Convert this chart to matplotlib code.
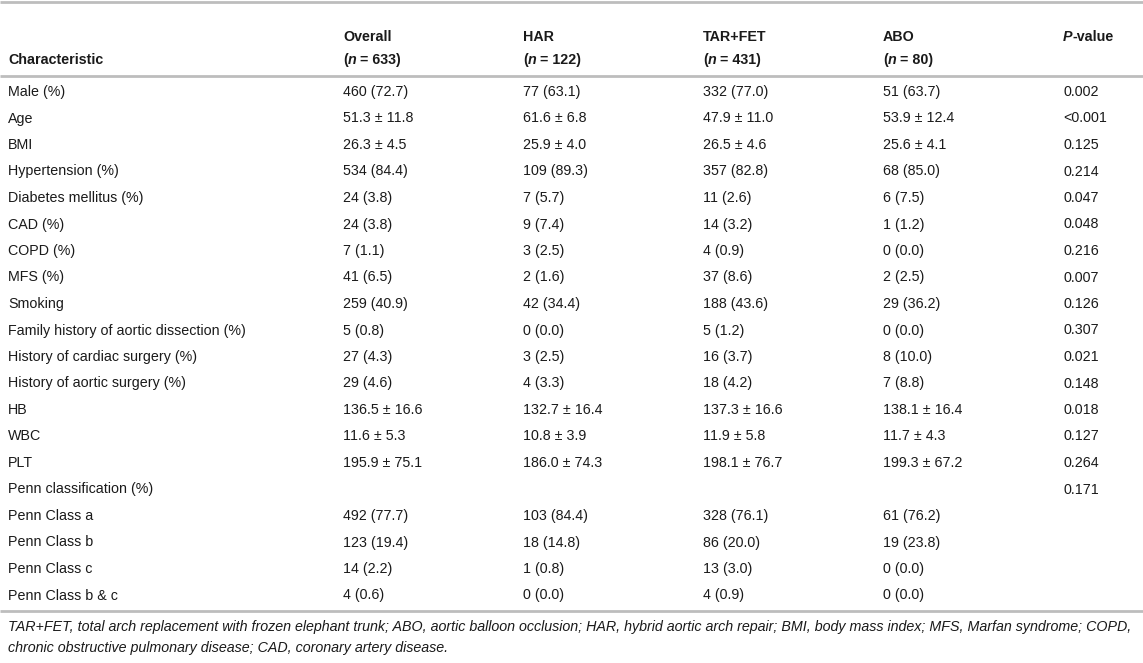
import matplotlib
matplotlib.use("Agg")
import matplotlib.pyplot as plt

plt.rcParams['font.family'] = ['Liberation Sans', 'DejaVu Sans']

# table content
labels = ["Male (%)", "Age", "BMI", "Hypertension (%)", "Diabetes mellitus (%)",
          "CAD (%)", "COPD (%)", "MFS (%)", "Smoking",
          "Family history of aortic dissection (%)", "History of cardiac surgery (%)",
          "History of aortic surgery (%)", "HB", "WBC", "PLT",
          "Penn classification (%)", "Penn Class a", "Penn Class b",
          "Penn Class c", "Penn Class b & c"]
overall = ["460 (72.7)", "51.3 ± 11.8", "26.3 ± 4.5", "534 (84.4)", "24 (3.8)",
           "24 (3.8)", "7 (1.1)", "41 (6.5)", "259 (40.9)", "5 (0.8)", "27 (4.3)",
           "29 (4.6)", "136.5 ± 16.6", "11.6 ± 5.3", "195.9 ± 75.1", "",
           "492 (77.7)", "123 (19.4)", "14 (2.2)", "4 (0.6)"]
har = ["77 (63.1)", "61.6 ± 6.8", "25.9 ± 4.0", "109 (89.3)", "7 (5.7)",
       "9 (7.4)", "3 (2.5)", "2 (1.6)", "42 (34.4)", "0 (0.0)", "3 (2.5)",
       "4 (3.3)", "132.7 ± 16.4", "10.8 ± 3.9", "186.0 ± 74.3", "",
       "103 (84.4)", "18 (14.8)", "1 (0.8)", "0 (0.0)"]
tarfet = ["332 (77.0)", "47.9 ± 11.0", "26.5 ± 4.6", "357 (82.8)", "11 (2.6)",
          "14 (3.2)", "4 (0.9)", "37 (8.6)", "188 (43.6)", "5 (1.2)", "16 (3.7)",
          "18 (4.2)", "137.3 ± 16.6", "11.9 ± 5.8", "198.1 ± 76.7", "",
          "328 (76.1)", "86 (20.0)", "13 (3.0)", "4 (0.9)"]
abo = ["51 (63.7)", "53.9 ± 12.4", "25.6 ± 4.1", "68 (85.0)", "6 (7.5)",
       "1 (1.2)", "0 (0.0)", "2 (2.5)", "29 (36.2)", "0 (0.0)", "8 (10.0)",
       "7 (8.8)", "138.1 ± 16.4", "11.7 ± 4.3", "199.3 ± 67.2", "",
       "61 (76.2)", "19 (23.8)", "0 (0.0)", "0 (0.0)"]
pvals = ["0.002", "<0.001", "0.125", "0.214", "0.047", "0.048", "0.216", "0.007",
         "0.126", "0.307", "0.021", "0.148", "0.018", "0.127", "0.264", "0.171",
         "", "", "", ""]
groups = ["Overall", "HAR", "TAR+FET", "ABO"]
group_n = ["633", "122", "431", "80"]
footnote = ["TAR+FET, total arch replacement with frozen elephant trunk; ABO, aortic balloon occlusion; "
            "HAR, hybrid aortic arch repair; BMI, body mass index; MFS, Marfan syndrome; COPD,",
            "chronic obstructive pulmonary disease; CAD, coronary artery disease."]

W, H = 1143, 663
fig = plt.figure(figsize=(W / 100, H / 100), dpi=100)
ax = fig.add_axes([0, 0, 1, 1])
ax.set_xlim(0, W)
ax.set_ylim(H, 0)
ax.axis("off")

txt_color = "#1a1a1a"
line_color = "#bdbdbd"
fs = 10.3
col_x = [8, 343, 523, 703, 883, 1063]
row0, row_step = 92, 26.5

renderer = fig.canvas.get_renderer()


def runs(x, y, parts):
    # draw a line of text made of pieces with different styles
    for s, style in parts:
        t = ax.text(x, y, s, fontsize=fs, color=txt_color, va="center", ha="left", **style)
        bb = t.get_window_extent(renderer=renderer)
        x += bb.width


bold = dict(fontweight="bold")
bolditalic = dict(fontweight="bold", fontstyle="italic")

# header
ax.text(col_x[0], 60, "Characteristic", fontsize=fs, color=txt_color, va="center", **bold)
for i, (g, n) in enumerate(zip(groups, group_n)):
    ax.text(col_x[i + 1], 37, g, fontsize=fs, color=txt_color, va="center", **bold)
    runs(col_x[i + 1], 60, [("(", bold), ("n", bolditalic), (" = " + n + ")", bold)])
runs(col_x[5], 37, [("P", bolditalic), ("-value", bold)])

# rules
for yl in (2, 76, 611):
    ax.plot([0, W], [yl, yl], color=line_color, lw=2, solid_capstyle="butt")

# body
for r in range(len(labels)):
    y = row0 + r * row_step
    cells = [labels[r], overall[r], har[r], tarfet[r], abo[r], pvals[r]]
    for c, s in enumerate(cells):
        if s:
            ax.text(col_x[c], y, s, fontsize=fs, color=txt_color, va="center", ha="left")

for i, line in enumerate(footnote):
    ax.text(col_x[0], 627 + i * 21, line, fontsize=fs, color=txt_color, va="center",
            ha="left", fontstyle="italic")

fig.savefig("out.png", dpi=100)
